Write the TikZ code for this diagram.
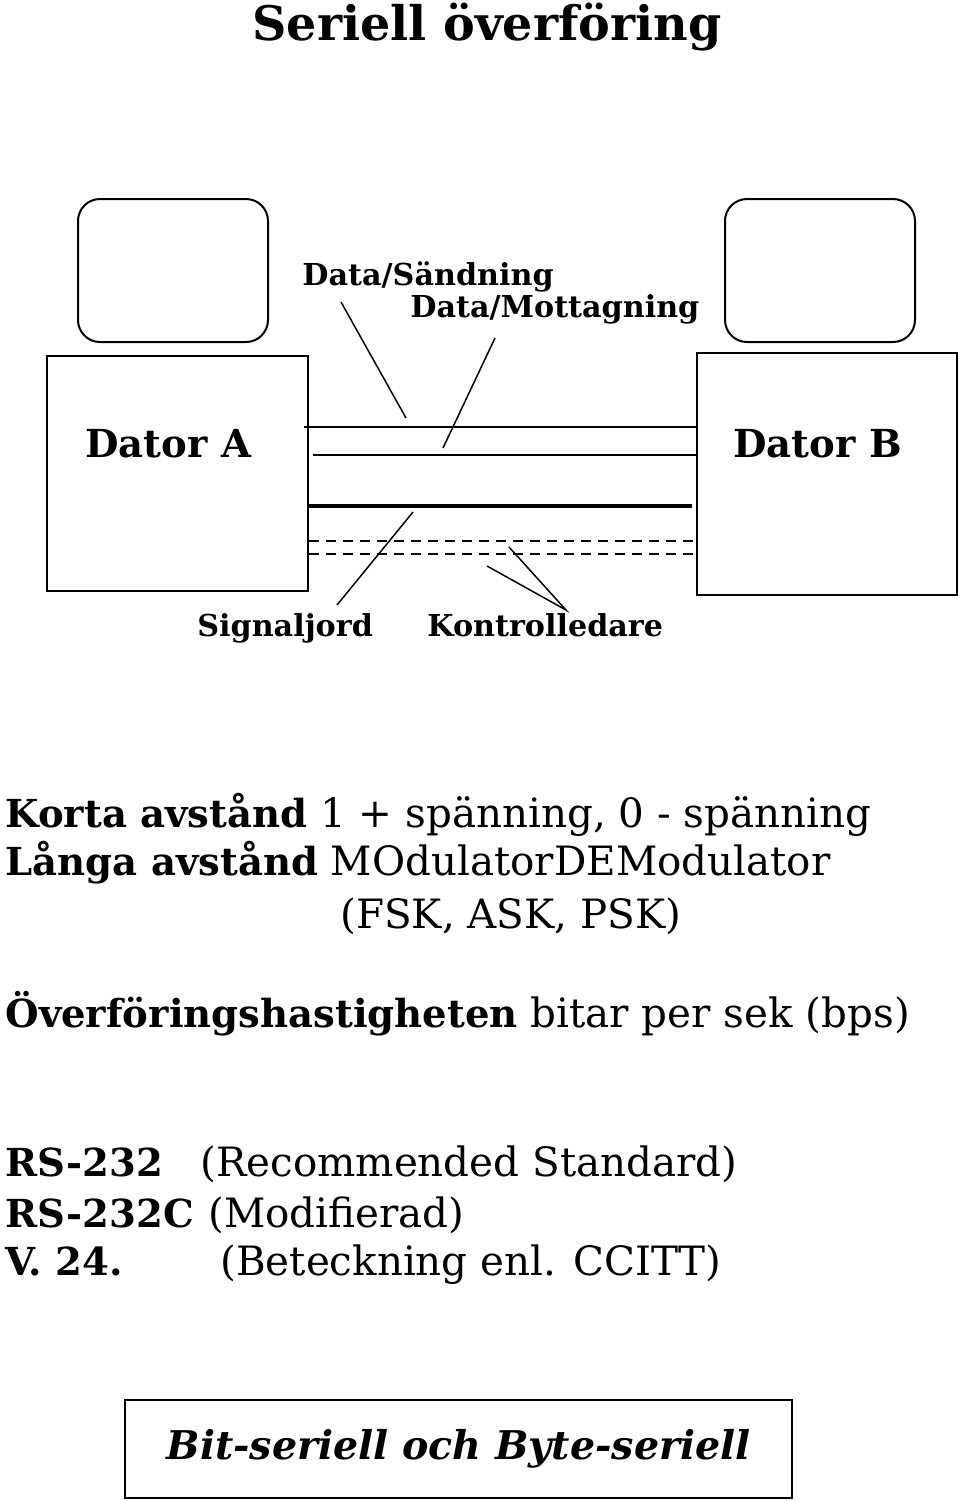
\documentclass[tikz,border=0pt]{standalone}
\usepackage{fontspec}
\setmainfont{DejaVu Serif}
\usetikzlibrary{positioning}
\newcommand{\hd}[1]{{\fontsize{19.3}{22}\selectfont\bfseries #1}}
\tikzset{
  screen/.style={draw, line width=1pt, rounded corners=11pt, minimum width=95pt, minimum height=71.5pt, inner sep=0pt},
  comp/.style={draw, line width=1pt, inner sep=0pt},
  wire/.style={line width=0.75pt},
  gnd/.style={line width=2pt},
  ctrl/.style={line width=1pt, dash pattern=on 5pt off 3.5pt},
  ptr/.style={line width=0.75pt},
  lbl/.style={anchor=base west, inner sep=0pt, font=\fontsize{15.1}{18}\selectfont\bfseries},
  txt/.style={anchor=base west, inner sep=0pt, font=\fontsize{20.2}{24}\selectfont},
}
\begin{document}
\begin{tikzpicture}[x=0.5pt, y=-0.5pt]
  \useasboundingbox (0,0) rectangle (960,1501);
  \node[inner sep=0pt, anchor=base, font=\fontsize{23.8}{28}\selectfont\bfseries] (title) at (487,40) {Seriell överföring};
  % screens and computers
  \node[screen] (scrA) at (173,270.5) {};
  \node[screen] (scrB) at (820,270.5) {};
  \node[comp, minimum width=130.5pt, minimum height=117.5pt] (compA) at (177.5,473.5) {};
  \node[comp, minimum width=130pt, minimum height=121pt] (compB) at (827,474) {};
  \node[lbl, font=\fontsize{19.3}{22}\selectfont\bfseries] (nameA) at (85,457) {Dator A};
  \node[lbl, font=\fontsize{19.3}{22}\selectfont\bfseries] (nameB) at (733,457) {Dator B};
  % wires
  \coordinate (w1) at (500,427);
  \coordinate (w2) at (500,455);
  \coordinate (w3) at (500,506);
  \coordinate (w4) at (500,541);
  \coordinate (w5) at (500,554);
  \draw[wire] ([xshift=-2.5pt]compA.east |- w1) -- (compB.west |- w1);
  \draw[wire] ([xshift=2pt]compA.east |- w2) -- ([xshift=1pt]compB.west |- w2);
  \draw[gnd] (compA.east |- w3) -- ([xshift=-2pt]compB.west |- w3);
  \draw[ctrl] (compA.east |- w4) -- (compB.west |- w4);
  \draw[ctrl] (compA.east |- w5) -- ([xshift=1pt]compB.west |- w5);
  % labels
  \node[lbl] (send) at (302,285) {Data/Sändning};
  \node[lbl] (recv) at (410,317) {Data/Mottagning};
  \node[lbl] (gndl) at (197,636) {Signaljord};
  \node[lbl] (ctrll) at (427,636) {Kontrolledare};
  \coordinate (s1) at (341,302);  \coordinate (s2) at (406,418);
  \coordinate (r1) at (495,338);  \coordinate (r2) at (443,448);
  \coordinate (g1) at (413,512);  \coordinate (g2) at (337,605);
  \coordinate (c0) at (566,610);
  \coordinate (c1) at (509,547);  \coordinate (c2) at (487,566);
  \draw[ptr] (s1) -- (s2);
  \draw[ptr] (r1) -- (r2);
  \draw[ptr] (g1) -- (g2);
  \draw[ptr] (c1) -- (c0) -- (c2);
  % text
  \node[txt] (kort) at (5,827) {\hd{Korta avstånd} 1 + spänning, 0 - spänning};
  \node[txt] (lang) at (5,875) {\hd{Långa avstånd} MOdulatorDEModulator};
  \node[txt] (mods) at (340,928) {(FSK, ASK, PSK)};
  \node[txt] (hast) at (5,1027) {\hd{Överföringshastigheten} bitar per sek (bps)};
  \node[txt] (rs1) at (5,1176) {\hd{RS-232}};
  \node[txt] (rs1t) at (200,1176) {(Recommended Standard)};
  \node[txt] (rs2) at (5,1227) {\hd{RS-232C}};
  \node[txt] (rs2t) at (208,1227) {(Modifierad)};
  \node[txt] (v24) at (5,1275) {\hd{V. 24.}};
  \node[txt] (v24t) at (220,1275) {(Beteckning enl. CCITT)};
  \node[comp, minimum width=333.5pt, minimum height=49pt, font=\fontsize{19.8}{23}\selectfont\bfseries\itshape] (bits) at (458.5,1449) {Bit-seriell och Byte-seriell};
\end{tikzpicture}
\end{document}
